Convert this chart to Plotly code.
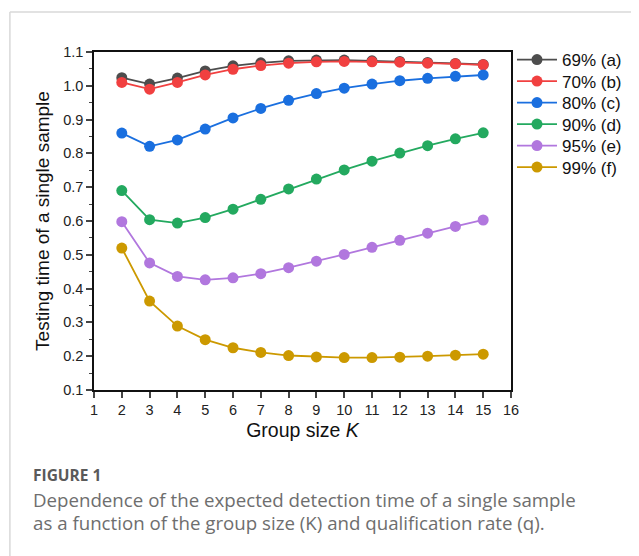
import plotly.graph_objects as go

K = [2, 3, 4, 5, 6, 7, 8, 9, 10, 11, 12, 13, 14, 15]
series_names = ["69% (a)", "70% (b)", "80% (c)", "90% (d)", "95% (e)", "99% (f)"]
colors = ["#4d4d4d", "#f14040", "#1a6fdf", "#23a95f", "#b177de", "#cc9900"]

v69 = [1.024, 1.005, 1.023, 1.044, 1.059, 1.068, 1.074, 1.076, 1.076, 1.074, 1.072, 1.069, 1.066, 1.063]
v70 = [1.010, 0.990, 1.010, 1.032, 1.049, 1.060, 1.067, 1.071, 1.072, 1.071, 1.070, 1.067, 1.065, 1.062]
v80 = [0.860, 0.821, 0.840, 0.872, 0.905, 0.933, 0.957, 0.977, 0.993, 1.005, 1.015, 1.022, 1.028, 1.032]
v90 = [0.690, 0.604, 0.594, 0.610, 0.635, 0.664, 0.695, 0.724, 0.751, 0.777, 0.801, 0.823, 0.843, 0.861]
v95 = [0.598, 0.476, 0.436, 0.426, 0.432, 0.444, 0.462, 0.481, 0.501, 0.522, 0.543, 0.564, 0.584, 0.603]
v99 = [0.520, 0.363, 0.289, 0.249, 0.225, 0.211, 0.202, 0.198, 0.196, 0.196, 0.197, 0.200, 0.203, 0.206]
all_values = [v69, v70, v80, v90, v95, v99]

x_ticks = list(range(1, 17))
y_ticks = [0.1, 0.2, 0.3, 0.4, 0.5, 0.6, 0.7, 0.8, 0.9, 1.0, 1.1]

# page body has an 8px margin: work in page pixels and shift
OFF = 8
W, H = 639 - OFF, 556 - OFF
L, R, T, B = 94 - OFF, 639 - 513, 52 - OFF, 556 - 390
pw, ph = W - L - R, H - T - B

def px(xp):
    return (xp - OFF - L) / pw

def py(yp):
    return (H - B - (yp - OFF)) / ph

FONT = "Liberation Sans, Arial, sans-serif"
fig = go.Figure()
legend_rows = [60, 81.5, 103, 124.5, 146, 167.5]
legend_layouts = {}
for i, (name, vals, col) in enumerate(zip(series_names, all_values, colors)):
    lg = "legend" if i == 0 else f"legend{i + 1}"
    fig.add_trace(go.Scatter(
        x=K, y=vals, name=name, mode="lines+markers",
        line=dict(color=col, width=1.8),
        marker=dict(color=col, size=11, line=dict(width=0)),
        legend=lg,
    ))
    legend_layouts[lg] = dict(x=px(514), y=py(legend_rows[i]), xanchor="left", yanchor="middle",
                              font=dict(family=FONT, size=17, color="#111"),
                              bgcolor="rgba(0,0,0,0)", borderwidth=0, itemwidth=40)

fig.update_layout(
    width=W, height=H,
    margin=dict(l=L, r=R, t=T, b=B, pad=0),
    paper_bgcolor="white", plot_bgcolor="white",
    font=dict(family=FONT, color="#222", size=14),
    showlegend=True,
    xaxis=dict(range=[1, 16], tickvals=x_ticks, ticks="outside", ticklen=6, tickwidth=1.5,
               showline=True, linecolor="#111", linewidth=1.6, mirror=True, showgrid=False,
               zeroline=False, tickfont=dict(size=14.5, family=FONT, color="#222"),
               title=dict(text="Group size <i>K</i>", font=dict(size=19.5, family=FONT, color="#111"), standoff=6)),
    yaxis=dict(range=[0.1, 1.1], tickvals=y_ticks, tickformat=".1f", ticks="outside", ticklen=6, tickwidth=1.5,
               minor=dict(ticks="outside", ticklen=3, tickwidth=1.2, dtick=0.05, tick0=0.1),
               showline=True, linecolor="#111", linewidth=1.6, mirror=True, showgrid=False,
               zeroline=False, tickfont=dict(size=14.5, family=FONT, color="#222"),
               title=dict(text="Testing time of a single sample", font=dict(size=19, family=FONT, color="#111"), standoff=8)),
    **legend_layouts,
)

# frame lines of the figure panel
fig.add_shape(type="line", xref="paper", yref="paper", x0=px(9.5), x1=px(660), y0=py(12), y1=py(12),
              line=dict(color="#d9d9d9", width=1.5))
fig.add_shape(type="line", xref="paper", yref="paper", x0=px(9.5), x1=px(9.5), y0=py(12), y1=py(580),
              line=dict(color="#d9d9d9", width=1.5))

CAP = "Open Sans, Lato, sans-serif"
fig.add_annotation(xref="paper", yref="paper", x=px(31), y=py(475), xanchor="left", yanchor="middle",
                   text="<b>FIGURE 1</b>", showarrow=False, font=dict(family=CAP, size=15.5, color="#5a5a5a"))
fig.add_annotation(xref="paper", yref="paper", x=px(31), y=py(499), xanchor="left", yanchor="middle",
                   text="Dependence of the expected detection time of a single sample",
                   showarrow=False, font=dict(family=CAP, size=18.7, color="#6e6e6e"))
fig.add_annotation(xref="paper", yref="paper", x=px(31), y=py(522), xanchor="left", yanchor="middle",
                   text="as a function of the group size (K) and qualification rate (q).",
                   showarrow=False, font=dict(family=CAP, size=18.7, color="#6e6e6e"))

fig.write_html("out.html")
